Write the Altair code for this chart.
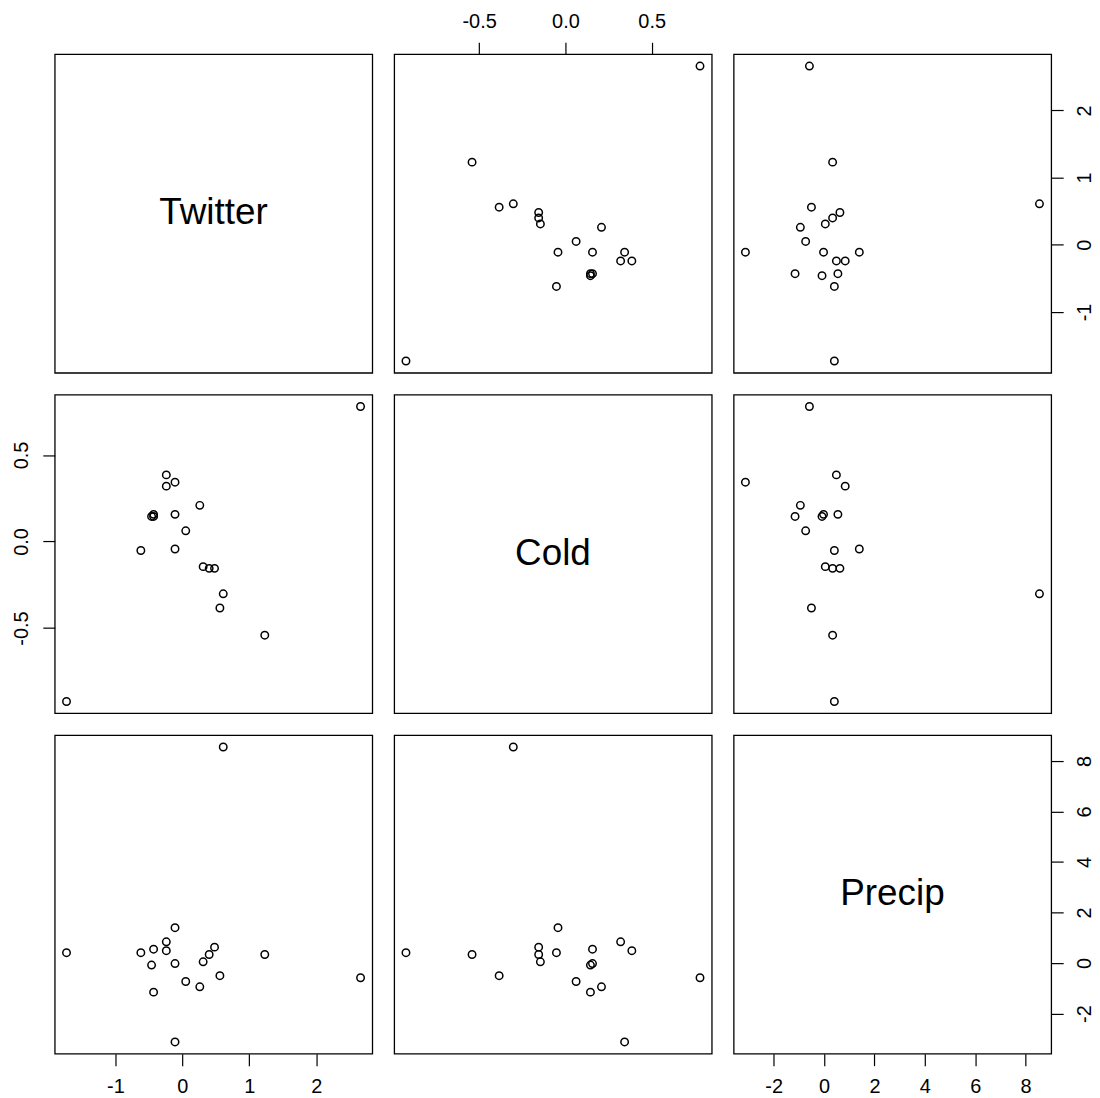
import altair as alt
import pandas as pd

names = ["Twitter", "Cold", "Precip"]
twitter = [-1.73, 0.61, -0.11, -0.24, -0.62, -0.43, -0.24, 0.48, 0.40, 1.23,
           -0.46, -0.11, 0.31, 0.56, 2.66, 0.05, 0.26, -0.43, -0.11]
cold = [-0.924, -0.302, -0.043, 0.32, -0.052, 0.157, 0.385, -0.155, -0.155, -0.541,
        0.145, 0.157, -0.145, -0.384, 0.78, 0.062, 0.209, 0.145, 0.343]
precip = [0.41, 8.55, 1.40, 0.84, 0.41, 0.55, 0.49, 0.63, 0.34, 0.34,
          -0.08, -0.02, 0.05, -0.50, -0.58, -0.73, -0.94, -1.15, -3.12]

ticks = {
    "Twitter": [-1, 0, 1, 2],
    "Cold": [-0.5, 0.0, 0.5],
    "Precip": [-2, 0, 2, 4, 6, 8],
}
fmts = {"Twitter": "d", "Cold": ".1f", "Precip": "d"}

df = pd.DataFrame({"Twitter": twitter, "Cold": cold, "Precip": precip})

dom = {}
for n in names:
    lo, hi = float(df[n].min()), float(df[n].max())
    pad = 0.04 * (hi - lo)
    dom[n] = [lo - pad, hi + pad]

FONT = "Liberation Sans"
W = 319
H = 320


def axis(var, orient):
    angle = 270 if orient in ("left", "right") else 0
    return alt.Axis(
        orient=orient,
        values=ticks[var],
        format=fmts[var],
        labelExpr="replace(datum.label, '\u2212', '-')",
        title=None,
        domain=False,
        grid=False,
        ticks=True,
        tickSize=12,
        tickWidth=1.2,
        tickColor="black",
        labelFont=FONT,
        labelFontSize=20,
        labelColor="black",
        labelPadding=11,
        labelAngle=angle,
        labelFlush=False,
        labelOverlap=False,
    )


def enc_x(var, field, orient):
    sc = alt.Scale(domain=dom[var], nice=False, zero=False)
    if orient:
        return alt.X(f"{field}:Q", scale=sc, axis=axis(var, orient))
    return alt.X(f"{field}:Q", scale=sc, axis=None)


def enc_y(var, field, orient):
    sc = alt.Scale(domain=dom[var], nice=False, zero=False)
    if orient:
        return alt.Y(f"{field}:Q", scale=sc, axis=axis(var, orient))
    return alt.Y(f"{field}:Q", scale=sc, axis=None)


def scatter(xv, yv, xo=None, yo=None):
    return alt.Chart(df).mark_point(
        shape="circle", filled=False, color="black", size=56, strokeWidth=1.5, opacity=1
    ).encode(
        x=enc_x(xv, xv, xo),
        y=enc_y(yv, yv, yo),
    ).properties(width=W, height=H)


def diag(var, xo=None, yo=None):
    d = pd.DataFrame({"name": [var], "mid": [(dom[var][0] + dom[var][1]) / 2]})
    return alt.Chart(d).mark_text(
        font=FONT, fontSize=37, color="black", align="center", baseline="middle"
    ).encode(
        x=enc_x(var, "mid", xo),
        y=enc_y(var, "mid", yo),
        text="name:N",
    ).properties(width=W, height=H)


panels = [
    diag("Twitter"),
    scatter("Cold", "Twitter", xo="top"),
    scatter("Precip", "Twitter", yo="right"),
    scatter("Twitter", "Cold", yo="left"),
    diag("Cold"),
    scatter("Precip", "Cold"),
    scatter("Twitter", "Precip", xo="bottom"),
    scatter("Cold", "Precip"),
    diag("Precip", xo="bottom", yo="right"),
]

chart = alt.concat(*panels, columns=3, spacing=22, bounds="flush").properties(
    padding={"left": 11, "top": 8, "right": 5, "bottom": 5},
    background="white",
).configure_view(
    stroke="black", strokeWidth=1.3, fill="white"
)

chart.save("out.html", embed_options={"renderer": "svg", "actions": False})
